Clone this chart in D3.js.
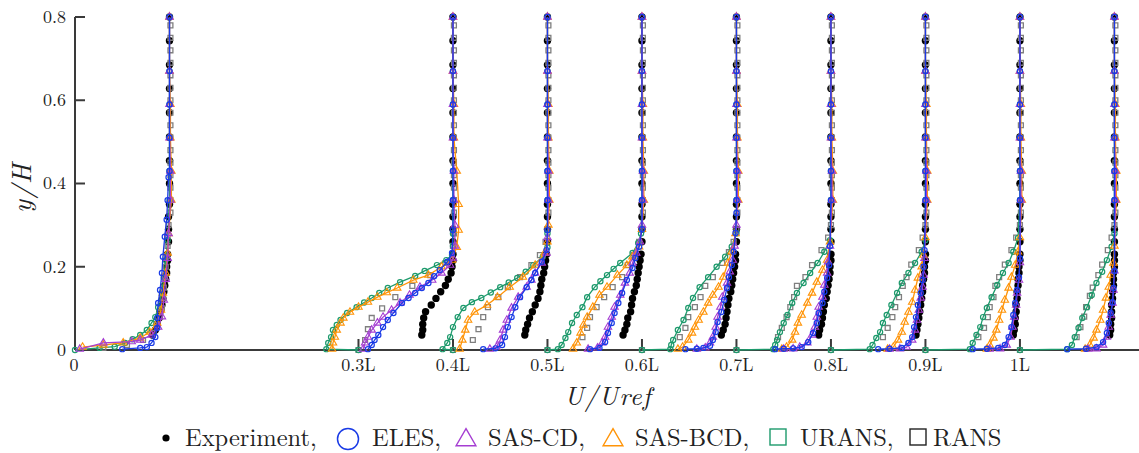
<!DOCTYPE html>
<html>
<head>
<meta charset="utf-8">
<script src="https://cdn.jsdelivr.net/npm/d3@7"></script>
<style>
  body { margin: 0; background: #fff; }
  svg { display: block; }
</style>
</head>
<body>
<svg id="chart" width="1139" height="453"></svg>
<script>
// stations along the hill (x/L) and their tick labels
var stations = [0, 0.3, 0.4, 0.5, 0.6, 0.7, 0.8, 0.9, 1.0];
var tickLabels = ["0", "0.3L", "0.4L", "0.5L", "0.6L", "0.7L", "0.8L", "0.9L", "1L"];
var yTicks = [0, 0.2, 0.4, 0.6, 0.8];
var profileScale = 0.1; // U/Uref = 1 spans 0.1 L

// experiment: shared y/H levels, U/Uref per station
var expY = [0.036, 0.048, 0.062, 0.077, 0.092, 0.108, 0.124, 0.14, 0.155, 0.17, 0.185, 0.2, 0.215, 0.23, 0.26, 0.29, 0.32, 0.35, 0.4, 0.455, 0.512, 0.57, 0.628, 0.685, 0.743, 0.8];
var experiment = [
  [0.82,0.85,0.87,0.89,0.9,0.92,0.93,0.94,0.95,0.96,0.97,0.97,0.98,0.98,0.99,0.99,0.99,1,1,1,1,1,1,1,1,1],
  [0.67,0.68,0.68,0.69,0.71,0.77,0.82,0.87,0.92,0.95,0.98,0.99,1,1,1,1,1,1,1,1,1,1,1,1,1,1],
  [0.76,0.77,0.79,0.81,0.84,0.87,0.9,0.92,0.93,0.94,0.96,0.97,0.98,0.99,1,1,1,1,1,1,1,1,1,1,1,1],
  [0.8,0.82,0.84,0.85,0.88,0.89,0.9,0.92,0.94,0.95,0.96,0.97,0.98,0.99,1,1,1,1,1,1,1,1,1,1,1,1],
  [0.84,0.86,0.88,0.89,0.9,0.91,0.92,0.94,0.95,0.96,0.97,0.98,0.99,0.99,1,1,1,1,1,1,1,1,1,1,1,1],
  [0.87,0.88,0.9,0.91,0.92,0.93,0.95,0.96,0.97,0.98,0.99,0.99,1,1,1,1,1,1,1,1,1,1,1,1,1,1],
  [0.9,0.91,0.92,0.93,0.94,0.95,0.96,0.97,0.97,0.98,0.99,0.99,1,1,1,1,1,1,1,1,1,1,1,1,1,1],
  [0.93,0.94,0.95,0.95,0.96,0.96,0.97,0.97,0.98,0.98,0.99,0.99,1,1,1,1,1,1,1,1,1,1,1,1,1,1],
  [0.95,0.96,0.96,0.97,0.97,0.97,0.98,0.98,0.99,0.99,0.99,1,1,1,1,1,1,1,1,1,1,1,1,1,1,1]
];

// upper part of the simulated profiles, same at every station
var topY = [0.36, 0.43, 0.51, 0.59, 0.67, 0.8];
var elesTop = [1, 1, 1, 1, 1, 1];
var sasCdTop = [1.01, 1.01, 1, 1, 1, 1];
var sasBcdTop = [1.02, 1.02, 1.01, 1.01, 1, 1];
var uransTop = [1, 1, 1, 1, 1, 1];
var ransTopY = [0.33, 0.36, 0.39, 0.42, 0.45, 0.48, 0.51, 0.54, 0.57, 0.6, 0.63, 0.66, 0.69, 0.72, 0.75, 0.78];
var ransTop = [1.01, 1.01, 1.01, 1.01, 1.01, 1.01, 1.01, 1.01, 1.01, 1.01, 1.01, 1.01, 1.01, 1.01, 1.01, 1.01];

// near-wall parts, [y/H, U/Uref] per station
var eles = [
  [[0.002,0.5],[0.005,0.69],[0.007,0.76],[0.017,0.81],[0.031,0.85],[0.053,0.87],[0.077,0.87],[0.113,0.88],[0.144,0.9],[0.185,0.92],[0.224,0.93],[0.272,0.95],[0.313,0.97],[0.36,0.98],[0.415,0.99]],
  [[0.002,0.1],[0.012,0.14],[0.024,0.17],[0.036,0.21],[0.055,0.26],[0.072,0.31],[0.089,0.37],[0.113,0.46],[0.125,0.53],[0.137,0.6],[0.149,0.67],[0.161,0.74],[0.177,0.8],[0.192,0.86],[0.212,0.94],[0.233,0.99],[0.288,1]],
  [[0.002,0.32],[0.004,0.45],[0.012,0.52],[0.031,0.55],[0.055,0.58],[0.079,0.62],[0.103,0.66],[0.127,0.71],[0.151,0.78],[0.168,0.83],[0.185,0.87],[0.212,0.94],[0.24,0.99],[0.288,1]],
  [[0.002,0.45],[0.005,0.55],[0.019,0.61],[0.041,0.64],[0.065,0.68],[0.089,0.71],[0.113,0.75],[0.137,0.79],[0.168,0.84],[0.197,0.9],[0.221,0.93],[0.248,0.97],[0.29,1]],
  [[0.002,0.46],[0.003,0.58],[0.005,0.65],[0.01,0.72],[0.024,0.75],[0.043,0.78],[0.067,0.8],[0.091,0.84],[0.12,0.87],[0.149,0.9],[0.175,0.92],[0.204,0.95],[0.236,0.97],[0.281,0.99],[0.329,1]],
  [[0.002,0.41],[0.003,0.5],[0.004,0.6],[0.007,0.69],[0.019,0.76],[0.041,0.81],[0.065,0.85],[0.089,0.87],[0.113,0.91],[0.14,0.93],[0.173,0.96],[0.204,0.98],[0.25,0.99]],
  [[0.002,0.5],[0.003,0.62],[0.005,0.75],[0.017,0.82],[0.031,0.86],[0.055,0.88],[0.079,0.9],[0.108,0.92],[0.137,0.95],[0.168,0.97],[0.2,0.98],[0.24,0.99]],
  [[0.002,0.5],[0.003,0.65],[0.005,0.77],[0.012,0.84],[0.031,0.88],[0.055,0.91],[0.084,0.93],[0.113,0.95],[0.144,0.97],[0.175,0.99],[0.22,1]],
  [[0.002,0.5],[0.003,0.7],[0.007,0.81],[0.019,0.88],[0.041,0.92],[0.065,0.94],[0.089,0.96],[0.115,0.98],[0.149,0.99],[0.19,1]]
];
var sasCd = [
  [[0.002,0.05],[0.017,0.3],[0.02,0.6],[0.024,0.69],[0.036,0.81],[0.055,0.88],[0.08,0.92],[0.12,0.94],[0.17,0.96],[0.22,0.98],[0.28,0.99]],
  [[0.002,0.05],[0.017,0.07],[0.031,0.1],[0.048,0.14],[0.065,0.2],[0.079,0.26],[0.096,0.35],[0.113,0.44],[0.132,0.54],[0.151,0.65],[0.168,0.78],[0.185,0.88],[0.204,0.97],[0.221,1],[0.25,1.02],[0.3,1.02]],
  [[0.002,0.39],[0.007,0.46],[0.024,0.5],[0.048,0.53],[0.072,0.57],[0.101,0.62],[0.127,0.69],[0.151,0.78],[0.168,0.83],[0.185,0.87],[0.209,0.94],[0.233,0.99],[0.27,1]],
  [[0.002,0.43],[0.005,0.53],[0.017,0.58],[0.031,0.61],[0.055,0.64],[0.079,0.68],[0.103,0.71],[0.132,0.77],[0.161,0.82],[0.185,0.87],[0.209,0.9],[0.233,0.94],[0.26,0.98],[0.3,1]],
  [[0.002,0.58],[0.005,0.67],[0.017,0.72],[0.031,0.75],[0.055,0.78],[0.079,0.8],[0.103,0.83],[0.127,0.85],[0.161,0.9],[0.188,0.93],[0.216,0.96],[0.25,0.98],[0.3,1]],
  [[0.002,0.5],[0.003,0.6],[0.007,0.67],[0.017,0.75],[0.036,0.8],[0.055,0.83],[0.079,0.85],[0.103,0.87],[0.127,0.91],[0.156,0.93],[0.185,0.96],[0.212,0.97],[0.25,0.99]],
  [[0.002,0.62],[0.003,0.73],[0.007,0.8],[0.024,0.86],[0.048,0.89],[0.072,0.91],[0.096,0.93],[0.125,0.95],[0.151,0.97],[0.18,0.98],[0.22,0.99]],
  [[0.002,0.68],[0.003,0.79],[0.012,0.86],[0.031,0.9],[0.055,0.92],[0.079,0.94],[0.108,0.96],[0.137,0.97],[0.168,0.99],[0.21,1]],
  [[0.002,0.72],[0.003,0.81],[0.012,0.88],[0.031,0.92],[0.055,0.94],[0.084,0.96],[0.113,0.98],[0.144,0.99],[0.19,1]]
];
var sasBcd = [
  [[0.007,0.08],[0.012,0.3],[0.017,0.51],[0.029,0.69],[0.043,0.79],[0.065,0.87],[0.096,0.91],[0.137,0.93],[0.185,0.96],[0.233,0.98],[0.28,0.99]],
  [[0.002,-0.28],[0.017,-0.27],[0.031,-0.25],[0.048,-0.23],[0.065,-0.19],[0.077,-0.16],[0.091,-0.09],[0.103,0],[0.115,0.1],[0.127,0.2],[0.138,0.3],[0.149,0.41],[0.168,0.58],[0.18,0.74],[0.2,0.88],[0.216,0.99],[0.247,1.04],[0.288,1.06],[0.35,1.06],[0.43,1.04]],
  [[0.002,0.07],[0.024,0.1],[0.048,0.13],[0.072,0.16],[0.091,0.23],[0.108,0.36],[0.127,0.47],[0.151,0.6],[0.175,0.74],[0.204,0.87],[0.233,0.97],[0.26,1],[0.3,1.01]],
  [[0.002,0.27],[0.017,0.31],[0.041,0.35],[0.06,0.38],[0.079,0.42],[0.103,0.48],[0.132,0.55],[0.151,0.63],[0.18,0.74],[0.204,0.84],[0.224,0.9],[0.248,0.97],[0.29,1]],
  [[0.002,0.38],[0.007,0.43],[0.024,0.49],[0.041,0.53],[0.055,0.56],[0.072,0.6],[0.091,0.65],[0.113,0.7],[0.132,0.75],[0.151,0.81],[0.175,0.86],[0.209,0.91],[0.236,0.95],[0.28,0.99]],
  [[0.002,0.48],[0.007,0.53],[0.024,0.59],[0.043,0.62],[0.065,0.65],[0.084,0.69],[0.113,0.75],[0.137,0.8],[0.163,0.85],[0.192,0.91],[0.216,0.96],[0.26,0.99]],
  [[0.002,0.6],[0.007,0.66],[0.024,0.71],[0.043,0.75],[0.067,0.78],[0.091,0.82],[0.115,0.86],[0.144,0.89],[0.173,0.92],[0.2,0.96],[0.228,0.98],[0.27,1]],
  [[0.002,0.65],[0.012,0.68],[0.029,0.72],[0.048,0.75],[0.072,0.78],[0.096,0.81],[0.12,0.84],[0.149,0.88],[0.175,0.91],[0.204,0.95],[0.236,0.98],[0.27,1]],
  [[0.002,0.69],[0.012,0.74],[0.029,0.78],[0.048,0.81],[0.072,0.85],[0.096,0.88],[0.125,0.91],[0.151,0.94],[0.18,0.96],[0.209,0.99],[0.25,1]]
];
var urans = [
  [[0,0],[0.005,0.26],[0.008,0.42],[0.017,0.53],[0.026,0.61],[0.036,0.69],[0.048,0.76],[0.065,0.81],[0.079,0.85],[0.103,0.88],[0.137,0.92],[0.175,0.94],[0.216,0.96],[0.264,0.98]],
  [[0,0],[0.002,-0.34],[0.017,-0.32],[0.031,-0.29],[0.048,-0.27],[0.06,-0.23],[0.072,-0.19],[0.089,-0.12],[0.103,-0.02],[0.114,0.06],[0.125,0.14],[0.137,0.22],[0.149,0.31],[0.163,0.44],[0.178,0.6],[0.19,0.7],[0.204,0.83],[0.216,0.93],[0.228,0.99],[0.25,1],[0.28,1]],
  [[0,0],[0.002,-0.11],[0.017,-0.06],[0.031,-0.03],[0.055,0],[0.079,0.05],[0.101,0.11],[0.115,0.2],[0.125,0.3],[0.138,0.4],[0.151,0.5],[0.162,0.59],[0.173,0.68],[0.188,0.77],[0.204,0.85],[0.224,0.95],[0.247,1],[0.28,1]],
  [[0,0],[0.002,0.11],[0.012,0.15],[0.029,0.19],[0.043,0.22],[0.065,0.26],[0.084,0.31],[0.103,0.37],[0.127,0.42],[0.151,0.5],[0.165,0.56],[0.18,0.63],[0.195,0.7],[0.209,0.77],[0.233,0.9],[0.257,0.96],[0.28,0.99]],
  [[0,0],[0.002,0.3],[0.012,0.31],[0.024,0.33],[0.048,0.38],[0.072,0.44],[0.101,0.49],[0.125,0.54],[0.151,0.61],[0.175,0.7],[0.2,0.79],[0.224,0.88],[0.248,0.95],[0.28,1]],
  [[0,0],[0.002,0.39],[0.012,0.41],[0.024,0.43],[0.043,0.46],[0.065,0.5],[0.084,0.54],[0.113,0.59],[0.137,0.64],[0.161,0.71],[0.185,0.78],[0.209,0.86],[0.236,0.93],[0.264,0.99]],
  [[0,0],[0.002,0.41],[0.012,0.44],[0.029,0.48],[0.043,0.52],[0.065,0.55],[0.084,0.59],[0.108,0.64],[0.137,0.7],[0.161,0.75],[0.185,0.82],[0.209,0.89],[0.236,0.96],[0.264,1]],
  [[0,0],[0.002,0.47],[0.017,0.5],[0.036,0.54],[0.055,0.58],[0.079,0.61],[0.101,0.65],[0.127,0.7],[0.156,0.76],[0.185,0.82],[0.209,0.88],[0.236,0.93],[0.269,0.98]],
  [[0,0],[0.002,0.5],[0.012,0.55],[0.031,0.58],[0.053,0.62],[0.077,0.66],[0.103,0.71],[0.132,0.76],[0.161,0.81],[0.188,0.87],[0.216,0.92],[0.248,0.97],[0.28,1]]
];
var rans = [
  [[0.005,0.3],[0.012,0.55],[0.024,0.72],[0.041,0.82],[0.06,0.87],[0.08,0.9],[0.1,0.92],[0.125,0.93],[0.15,0.94],[0.175,0.95],[0.2,0.96],[0.225,0.97],[0.25,0.98],[0.275,0.98],[0.3,0.99]],
  [[0,0],[0.024,0.07],[0.05,0.1],[0.077,0.14],[0.1,0.25],[0.127,0.39],[0.154,0.57],[0.18,0.76],[0.209,0.92],[0.25,1],[0.28,1.01]],
  [[0,0],[0.024,0.21],[0.05,0.27],[0.079,0.32],[0.103,0.37],[0.127,0.48],[0.151,0.58],[0.175,0.71],[0.204,0.83],[0.228,0.92],[0.26,0.98],[0.29,1]],
  [[0,0],[0.031,0.37],[0.053,0.42],[0.079,0.45],[0.103,0.52],[0.127,0.6],[0.151,0.69],[0.175,0.79],[0.204,0.85],[0.228,0.91],[0.26,0.97],[0.29,1]],
  [[0,0],[0.031,0.4],[0.053,0.46],[0.079,0.49],[0.103,0.56],[0.127,0.62],[0.154,0.67],[0.175,0.75],[0.209,0.85],[0.235,0.92],[0.26,0.97],[0.29,1]],
  [[0,0],[0.031,0.44],[0.053,0.48],[0.079,0.53],[0.103,0.57],[0.127,0.61],[0.154,0.64],[0.175,0.73],[0.204,0.8],[0.24,0.9],[0.27,0.97],[0.3,1]],
  [[0,0],[0.031,0.55],[0.053,0.6],[0.079,0.65],[0.103,0.68],[0.127,0.72],[0.154,0.76],[0.175,0.8],[0.205,0.85],[0.24,0.93],[0.27,0.97],[0.3,1]],
  [[0,0],[0.031,0.56],[0.053,0.62],[0.079,0.66],[0.103,0.68],[0.127,0.72],[0.154,0.74],[0.175,0.78],[0.205,0.84],[0.24,0.91],[0.27,0.96],[0.3,1]],
  [[0,0],[0.031,0.6],[0.055,0.64],[0.08,0.68],[0.103,0.7],[0.13,0.74],[0.15,0.77],[0.18,0.83],[0.205,0.87],[0.24,0.93],[0.27,0.97],[0.3,1]]
];

var colors = {
  eles: "#1a3be6",
  sasCd: "#a53ed2",
  sasBcd: "#ff9408",
  urans: "#1d9a6c",
  rans: "#7f7f7f"
};
var serif = "Latin Modern Roman";

var svg = d3.select("#chart");
var x = d3.scaleLinear().domain([0, 1.126]).range([75, 1139]);
var y = d3.scaleLinear().domain([0, 0.8]).range([350, 17]);

function label(g, px, py, str, size) {
  return g.append("text").attr("x", px).attr("y", py)
    .style("font-family", serif).style("font-size", size + "px").style("fill", "#222")
    .text(str);
}

// build point list for one station of one series
function profile(i, pairs, upY, upU) {
  var pts = pairs.map(function (p) { return {y: p[0], u: p[1]}; });
  var last = pts[pts.length - 1].y;
  upY.forEach(function (yy, k) {
    if (yy > last + 0.01) pts.push({y: yy, u: upU[k]});
  });
  return pts.map(function (p) { return {x: stations[i] + profileScale * p.u, y: p.y}; });
}

// axes
var axisColor = "#3a3a3a";
var gAxis = svg.append("g");
gAxis.append("line").attr("x1", x(0)).attr("x2", 1139).attr("y1", y(0)).attr("y2", y(0))
  .attr("stroke", axisColor).attr("stroke-width", 2);
gAxis.append("line").attr("x1", x(0)).attr("x2", x(0)).attr("y1", y(0)).attr("y2", y(0.8))
  .attr("stroke", axisColor).attr("stroke-width", 2);
yTicks.forEach(function (t) {
  gAxis.append("line").attr("x1", x(0)).attr("x2", x(0) + 10).attr("y1", y(t)).attr("y2", y(t))
    .attr("stroke", axisColor).attr("stroke-width", 2);
  label(gAxis, 66, y(t), t === 0 ? "0" : d3.format(".1f")(t), 18)
    .attr("dy", "0.33em").attr("text-anchor", "end");
});
stations.forEach(function (s, i) {
  if (i > 0) {
    gAxis.append("line").attr("x1", x(s)).attr("x2", x(s)).attr("y1", y(0)).attr("y2", y(0) - 11)
      .attr("stroke", axisColor).attr("stroke-width", 2);
  }
  label(gAxis, x(s) + (i === 0 ? -1 : 0), 371, tickLabels[i], 18).attr("text-anchor", "middle");
});

label(svg, 608, 405, "U/Uref", 26).attr("text-anchor", "middle").style("font-style", "italic")
  .style("letter-spacing", "1px");
label(svg, 0, 0, "y/H", 27).attr("text-anchor", "middle").style("font-style", "italic")
  .style("letter-spacing", "1px")
  .attr("transform", "translate(31,188) rotate(-90)");

var plot = svg.append("g");
var line = d3.line().x(function (d) { return x(d.x); }).y(function (d) { return y(d.y); });

// experiment dots
stations.forEach(function (s, i) {
  var pts = expY.map(function (yy, k) { return {x: s + profileScale * experiment[i][k], y: yy}; });
  plot.append("g").selectAll("circle").data(pts).join("circle")
    .attr("cx", function (d) { return x(d.x); }).attr("cy", function (d) { return y(d.y); })
    .attr("r", 3.7).attr("fill", "#000");
});

// RANS squares
var sq = d3.symbol().type(d3.symbolSquare).size(24);
stations.forEach(function (s, i) {
  var pts = profile(i, rans[i], ransTopY, ransTop);
  plot.append("g").selectAll("path").data(pts).join("path")
    .attr("d", sq)
    .attr("transform", function (d) { return "translate(" + x(d.x) + "," + y(d.y) + ")"; })
    .attr("fill", "none").attr("stroke", colors.rans).attr("stroke-width", 1.3);
});

// simulated profiles with line + markers
var series = [
  {data: urans, top: uransTop, color: colors.urans, shape: "circle"},
  {data: sasBcd, top: sasBcdTop, color: colors.sasBcd, shape: "triangle"},
  {data: sasCd, top: sasCdTop, color: colors.sasCd, shape: "triangle"},
  {data: eles, top: elesTop, color: colors.eles, shape: "circle"}
];
var tri = d3.symbol().type(d3.symbolTriangle).size(24);
series.forEach(function (ser) {
  stations.forEach(function (s, i) {
    var pts = profile(i, ser.data[i], topY, ser.top);
    var g = plot.append("g");
    g.append("path").datum(pts).attr("d", line).attr("fill", "none")
      .attr("stroke", ser.color).attr("stroke-width", 1.3);
    if (ser.shape === "circle") {
      g.selectAll("circle").data(pts).join("circle")
        .attr("cx", function (d) { return x(d.x); }).attr("cy", function (d) { return y(d.y); })
        .attr("r", 2.6).attr("fill", "none").attr("stroke", ser.color).attr("stroke-width", 1.2);
    } else {
      g.selectAll("path.m").data(pts).join("path").attr("class", "m")
        .attr("d", tri)
        .attr("transform", function (d) { return "translate(" + x(d.x) + "," + y(d.y) + ")"; })
        .attr("fill", "none").attr("stroke", ser.color).attr("stroke-width", 1.1);
    }
  });
});

// legend
var lg = svg.append("g");
var base = 446, fs = 24.5;
lg.append("circle").attr("cx", 166).attr("cy", 438).attr("r", 3.6).attr("fill", "#000");
label(lg, 185, base, "Experiment,", fs);
lg.append("circle").attr("cx", 348).attr("cy", 439).attr("r", 10.5)
  .attr("fill", "none").attr("stroke", colors.eles).attr("stroke-width", 1.5);
label(lg, 372, base, "ELES,", fs);
lg.append("path").attr("d", d3.symbol().type(d3.symbolTriangle).size(170))
  .attr("transform", "translate(466,440)").attr("fill", "none")
  .attr("stroke", colors.sasCd).attr("stroke-width", 1.4);
label(lg, 488, base, "SAS-CD,", fs);
lg.append("path").attr("d", d3.symbol().type(d3.symbolTriangle).size(170))
  .attr("transform", "translate(613,440)").attr("fill", "none")
  .attr("stroke", colors.sasBcd).attr("stroke-width", 1.4);
label(lg, 635, base, "SAS-BCD,", fs);
lg.append("rect").attr("x", 770).attr("y", 429).attr("width", 16).attr("height", 16)
  .attr("fill", "none").attr("stroke", colors.urans).attr("stroke-width", 1.4);
label(lg, 800, base, "URANS,", fs);
lg.append("rect").attr("x", 910).attr("y", 429).attr("width", 16).attr("height", 16)
  .attr("fill", "none").attr("stroke", "#222").attr("stroke-width", 1.4);
label(lg, 933, base, "RANS", fs);
</script>
</body>
</html>
